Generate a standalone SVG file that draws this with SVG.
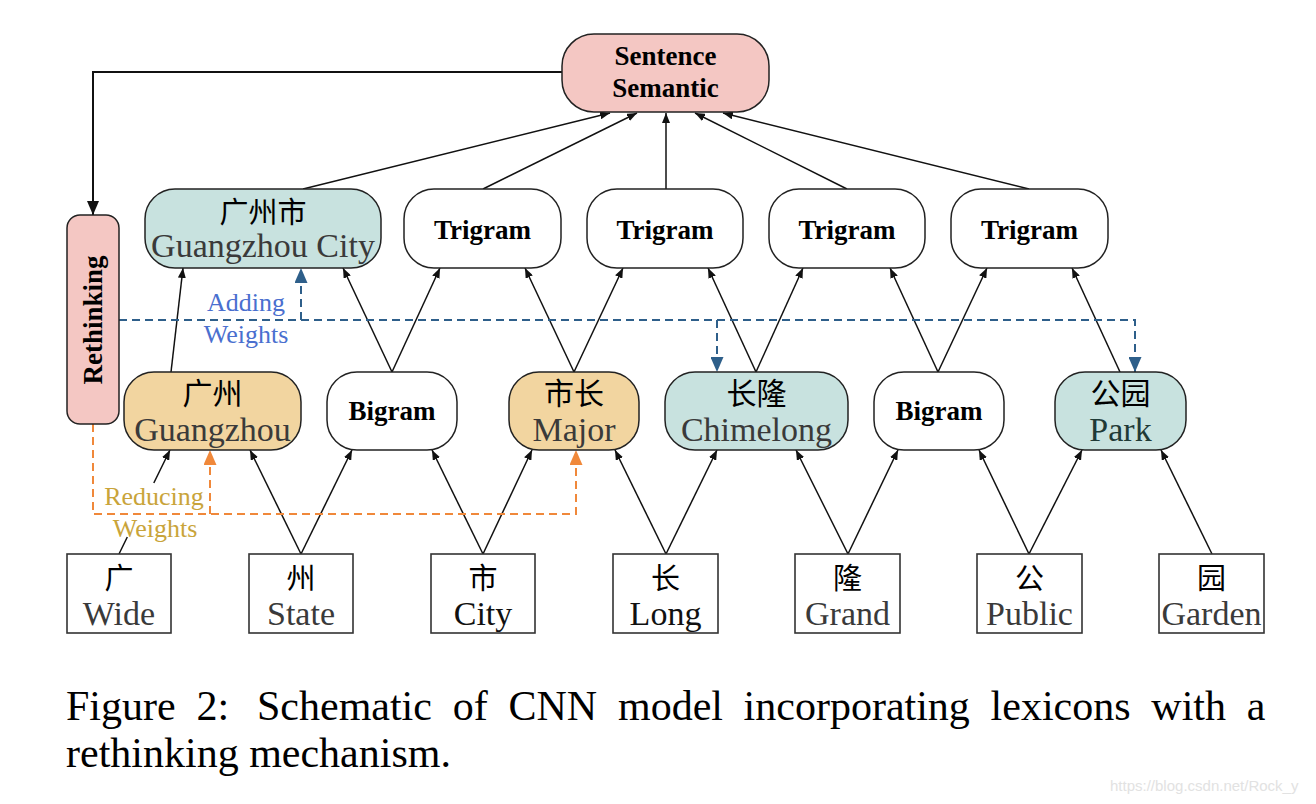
<svg xmlns="http://www.w3.org/2000/svg" width="1316" height="804" viewBox="0 0 1316 804">
<style>
.node{stroke:#222;stroke-width:1.5}
.pink{fill:#f4c7c3}
.teal{fill:#c8e2df}
.tan{fill:#f2d5a0}
.white{fill:#fff}
.box{fill:#fff;stroke:#333;stroke-width:1.6}
.b{font-family:"Liberation Serif",serif;font-weight:bold;font-size:27px;fill:#000;text-anchor:middle}
.zh{font-family:"Noto Sans CJK SC",sans-serif;font-size:29px;fill:#000;text-anchor:middle}
.zhm{font-family:"Noto Sans CJK SC",sans-serif;font-size:30px;fill:#000;text-anchor:middle}
.en{font-family:"Liberation Serif",serif;font-size:34px;fill:#3a3a3a;text-anchor:middle}
.enk{font-family:"Liberation Serif",serif;font-size:34px;fill:#111;text-anchor:middle}
.edge{fill:none;stroke:#111;stroke-width:1.5;marker-end:url(#ah)}
.blue{fill:none;stroke:#2e5f8a;stroke-width:2;stroke-dasharray:8 5}
.orange{fill:none;stroke:#f0883a;stroke-width:2;stroke-dasharray:8 5}
.cap{font-family:"Liberation Serif",serif;font-size:42px;fill:#000}
.lblB{font-family:"Liberation Serif",serif;font-size:26px;fill:#4a6fcf;text-anchor:middle}
.lblO{font-family:"Liberation Serif",serif;font-size:26px;fill:#c9a43a;text-anchor:middle}
</style>
<defs>
<marker id="ah" markerUnits="userSpaceOnUse" markerWidth="10" markerHeight="8" refX="10" refY="4" orient="auto"><path d="M0,0 L10,4 L0,8 z" fill="#111"/></marker>
<marker id="ahBig" markerUnits="userSpaceOnUse" markerWidth="14" markerHeight="12" refX="14" refY="6" orient="auto"><path d="M0,0 L14,6 L0,12 z" fill="#111"/></marker>
<marker id="ahBlue" markerUnits="userSpaceOnUse" markerWidth="15" markerHeight="13" refX="15" refY="6.5" orient="auto"><path d="M0,0 L15,6.5 L0,13 z" fill="#2e5f8a"/></marker>
<marker id="ahOrange" markerUnits="userSpaceOnUse" markerWidth="15" markerHeight="13" refX="15" refY="6.5" orient="auto"><path d="M0,0 L15,6.5 L0,13 z" fill="#f0883a"/></marker>
</defs>
<rect width="1316" height="804" fill="#fff"/>

<g id="connectors">
  <path class="edge" d="M303,189 L610,113"/>
  <path class="edge" d="M483,189 L637,113"/>
  <path class="edge" d="M666,189 L666,113"/>
  <path class="edge" d="M847,189 L695,113"/>
  <path class="edge" d="M1029,189 L723,113"/>
  <path class="edge" d="M171,372 L183,268"/>
  <path class="edge" d="M392,372 L343,268"/>
  <path class="edge" d="M392,372 L440,268"/>
  <path class="edge" d="M574,372 L525,268"/>
  <path class="edge" d="M574,372 L623,268"/>
  <path class="edge" d="M756,372 L708,268"/>
  <path class="edge" d="M756,372 L803,268"/>
  <path class="edge" d="M938,372 L890,268"/>
  <path class="edge" d="M938,372 L987,268"/>
  <path class="edge" d="M1120,372 L1072,268"/>
  <path class="edge" d="M119,554 L127.3,537 M153.8,483 L170,450"/>
  <path class="edge" d="M301,554 L250,450"/>
  <path class="edge" d="M301,554 L352,450"/>
  <path class="edge" d="M483,554 L432,450"/>
  <path class="edge" d="M483,554 L532,450"/>
  <path class="edge" d="M666,554 L615,450"/>
  <path class="edge" d="M666,554 L717,450"/>
  <path class="edge" d="M848,554 L796,450"/>
  <path class="edge" d="M848,554 L898,450"/>
  <path class="edge" d="M1029,554 L979,450"/>
  <path class="edge" d="M1029,554 L1082,450"/>
  <path class="edge" d="M1212,554 L1161,450"/>
  <path d="M562,72 H93 V215" fill="none" stroke="#111" stroke-width="2" marker-end="url(#ahBig)"/>
  <path class="blue" d="M119,320 H1135 V372" marker-end="url(#ahBlue)"/>
  <path class="blue" d="M301,320 V268" marker-end="url(#ahBlue)"/>
  <path class="blue" d="M717,320 V372" marker-end="url(#ahBlue)"/>
  <path class="orange" d="M93,424 V514 H576 V450" marker-end="url(#ahOrange)"/>
  <path class="orange" d="M210,514 V450" marker-end="url(#ahOrange)"/>
</g>

<g id="labels">
  <text class="lblB" x="246" y="311">Adding</text>
  <text class="lblB" x="246" y="343">Weights</text>
  <text class="lblO" x="154" y="505">Reducing</text>
  <text class="lblO" x="155" y="537">Weights</text>
</g>

<g id="sentence-semantic">
  <rect class="node pink" x="562" y="34" width="207" height="78" rx="32"/>
  <text class="b" x="665.5" y="65">Sentence</text>
  <text class="b" x="665.5" y="97">Semantic</text>
</g>

<g id="rethinking">
  <rect class="node pink" x="67" y="215" width="52" height="209" rx="13"/>
  <text class="b" transform="translate(102,320) rotate(-90)" x="0" y="0">Rethinking</text>
</g>

<g id="guangzhou-city">
  <rect class="node teal" x="145" y="189" width="236" height="79" rx="30"/>
  <text class="zh" x="263" y="223">广州市</text>
  <text class="en" x="263" y="257">Guangzhou City</text>
</g>
<g id="trigram-1">
  <rect class="node white" x="404" y="189" width="157" height="79" rx="30"/>
  <text class="b" x="482.5" y="239">Trigram</text>
</g>
<g id="trigram-2">
  <rect class="node white" x="587" y="189" width="156" height="79" rx="30"/>
  <text class="b" x="665" y="239">Trigram</text>
</g>
<g id="trigram-3">
  <rect class="node white" x="769" y="189" width="156" height="79" rx="30"/>
  <text class="b" x="847" y="239">Trigram</text>
</g>
<g id="trigram-4">
  <rect class="node white" x="951" y="189" width="157" height="79" rx="30"/>
  <text class="b" x="1029.5" y="239">Trigram</text>
</g>

<g id="guangzhou">
  <rect class="node tan" x="124" y="372" width="177" height="78" rx="30"/>
  <text class="zhm" x="212.5" y="404">广州</text>
  <text class="en" x="212.5" y="441">Guangzhou</text>
</g>
<g id="bigram-1">
  <rect class="node white" x="327" y="372" width="130" height="78" rx="30"/>
  <text class="b" x="392" y="420">Bigram</text>
</g>
<g id="major">
  <rect class="node tan" x="509" y="372" width="130" height="78" rx="30"/>
  <text class="zhm" x="574" y="404">市长</text>
  <text class="en" x="574" y="441">Major</text>
</g>
<g id="chimelong">
  <rect class="node teal" x="665" y="372" width="183" height="78" rx="30"/>
  <text class="zhm" x="756.5" y="404">长隆</text>
  <text class="en" x="756.5" y="441">Chimelong</text>
</g>
<g id="bigram-2">
  <rect class="node white" x="874" y="372" width="130" height="78" rx="30"/>
  <text class="b" x="939" y="420">Bigram</text>
</g>
<g id="park">
  <rect class="node teal" x="1055" y="372" width="131" height="78" rx="30"/>
  <text class="zhm" x="1120.5" y="404">公园</text>
  <text class="en" x="1120.5" y="441" style="fill:#1f3a36">Park</text>
</g>

<g id="char-wide">
  <rect class="box" x="67" y="554" width="104" height="79"/>
  <text class="zh" x="119" y="589">广</text>
  <text class="en" x="119" y="625">Wide</text>
</g>
<g id="char-state">
  <rect class="box" x="249" y="554" width="104" height="79"/>
  <text class="zh" x="301" y="589">州</text>
  <text class="en" x="301" y="625">State</text>
</g>
<g id="char-city">
  <rect class="box" x="431" y="554" width="104" height="79"/>
  <text class="zh" x="483" y="589">市</text>
  <text class="enk" x="483" y="625">City</text>
</g>
<g id="char-long">
  <rect class="box" x="613" y="554" width="105" height="79"/>
  <text class="zh" x="665.5" y="589">长</text>
  <text class="enk" x="665.5" y="625">Long</text>
</g>
<g id="char-grand">
  <rect class="box" x="795" y="554" width="105" height="79"/>
  <text class="zh" x="847.5" y="589">隆</text>
  <text class="en" x="847.5" y="625">Grand</text>
</g>
<g id="char-public">
  <rect class="box" x="977" y="554" width="105" height="79"/>
  <text class="zh" x="1029.5" y="589">公</text>
  <text class="en" x="1029.5" y="625">Public</text>
</g>
<g id="char-garden">
  <rect class="box" x="1159" y="554" width="105" height="79"/>
  <text class="zh" x="1211.5" y="589">园</text>
  <text class="en" x="1211.5" y="625">Garden</text>
</g>

<g id="caption">
  <text class="cap" y="720"><tspan x="66">Figure</tspan><tspan x="196.4">2:</tspan><tspan x="257">Schematic</tspan><tspan x="452.8">of</tspan><tspan x="508.5">CNN</tspan><tspan x="618">model</tspan><tspan x="743.6">incorporating</tspan><tspan x="990.6">lexicons</tspan><tspan x="1151.3">with</tspan><tspan x="1246.7">a</tspan></text>
  <text class="cap" x="66" y="767">rethinking mechanism.</text>
</g>
<text x="1110" y="791" font-family="Liberation Sans,sans-serif" font-size="15" fill="#e2e2e2">https://blog.csdn.net/Rock_y</text>
</svg>
